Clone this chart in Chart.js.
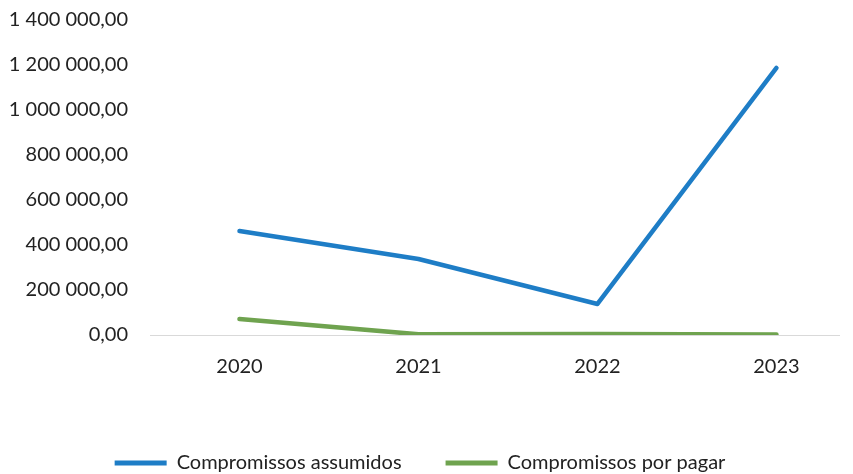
<!DOCTYPE html>
<html>
<head>
<meta charset="utf-8">
<script src="https://cdn.jsdelivr.net/npm/chart.js@4/dist/chart.umd.min.js"></script>
<style>
  html, body { margin: 0; padding: 0; background: #fff; }
  #wrap { width: 853px; height: 474px; }
</style>
</head>
<body>
<div id="wrap"><canvas id="chart-compromissos"></canvas></div>
<script>
var years = [2020, 2021, 2022, 2023];
var assumidos = [462000, 338000, 138000, 1187000];
var porPagar = [71000, 3000, 5000, 2000];
var seriesNames = ['Compromissos assumidos', 'Compromissos por pagar'];
var yTicks = [0, 200000, 400000, 600000, 800000, 1000000, 1200000, 1400000];

var blue = '#1e7dc6';
var green = '#6fa34f';
var textColor = '#222222';

// 1 400 000,00 style
function formatPt(v) {
    return String(Math.round(v)).replace(/\B(?=(\d{3})+$)/g, ' ') + ',00';
}

var ctx = document.getElementById('chart-compromissos').getContext('2d');
var lineChart = new Chart(ctx, {
    type: 'line',
    data: {
        labels: years,
        datasets: [{
            label: seriesNames[0],
            data: assumidos,
            borderColor: blue,
            backgroundColor: blue,
            borderWidth: 4.5,
            borderCapStyle: 'round',
            borderJoinStyle: 'round',
            pointRadius: 0,
            tension: 0,
            fill: false
        }, {
            label: seriesNames[1],
            data: porPagar,
            borderColor: green,
            backgroundColor: green,
            borderWidth: 4.5,
            borderCapStyle: 'round',
            borderJoinStyle: 'round',
            pointRadius: 0,
            tension: 0,
            fill: false
        }]
    },
    options: {
        responsive: true,
        maintainAspectRatio: false,
        animation: false,
        layout: {
            padding: { top: 20, left: 0, right: 13, bottom: -9 }
        },
        plugins: {
            tooltip: { enabled: false },
            legend: {
                position: 'bottom',
                labels: {
                    boxWidth: 52,
                    boxHeight: 5,
                    padding: 44,
                    color: textColor,
                    font: { family: 'Lato', size: 20 },
                    generateLabels: function (chart) {
                        return Chart.defaults.plugins.legend.labels.generateLabels(chart).map(function (l) {
                            l.lineWidth = 0;
                            return l;
                        });
                    }
                }
            }
        },
        scales: {
            x: {
                type: 'linear',
                min: 2019.5,
                max: 2023.355,
                grid: { display: false, drawTicks: false },
                border: { display: false },
                ticks: {
                    padding: 20,
                    color: textColor,
                    font: { family: 'Lato', size: 20 },
                    autoSkip: false,
                    callback: function (v) { return String(v); }
                },
                afterBuildTicks: function (scale) {
                    scale.ticks = years.map(function (v) { return { value: v }; });
                },
                afterFit: function (scale) { scale.height = 74; }
            },
            y: {
                min: yTicks[0],
                max: yTicks[yTicks.length - 1],
                grid: {
                    drawTicks: false,
                    lineWidth: 1,
                    color: function (c) { return c.tick && c.tick.value === 0 ? '#d9d9d9' : 'rgba(0,0,0,0)'; }
                },
                border: { display: false },
                ticks: {
                    padding: 22,
                    color: textColor,
                    font: { family: 'Lato', size: 20 },
                    callback: function (v) { return formatPt(v); }
                },
                afterBuildTicks: function (scale) {
                    scale.ticks = yTicks.map(function (v) { return { value: v }; });
                },
                afterFit: function (scale) {
                    scale.width = 150;
                    // the label padding is horizontal only, keep it out of the top/bottom
                    scale.paddingTop = 0;
                    scale.paddingBottom = 0;
                }
            }
        }
    }
});
</script>
</body>
</html>
